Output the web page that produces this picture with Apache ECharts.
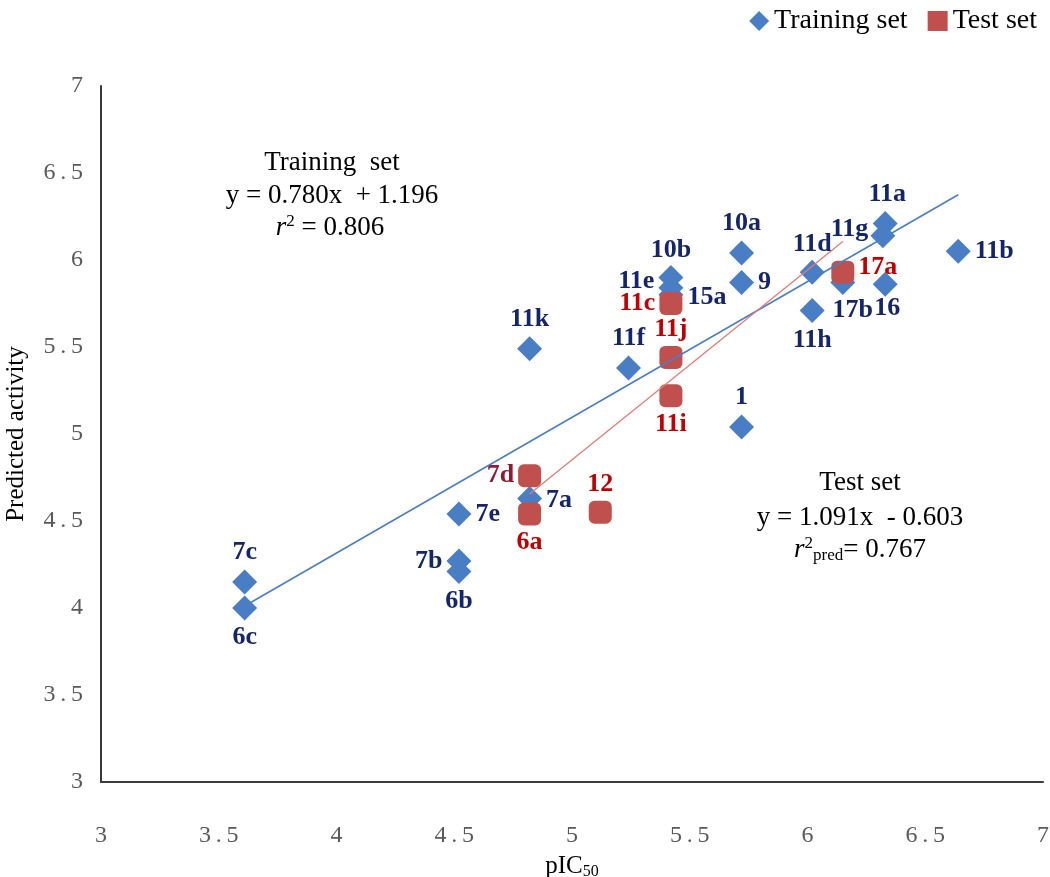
<!DOCTYPE html>
<html>
<head>
<meta charset="utf-8">
<script src="https://cdn.jsdelivr.net/npm/echarts@6/dist/echarts.min.js"></script>
<style>html,body{margin:0;padding:0;background:#fff}#c{width:1050px;height:877px}</style>
</head>
<body>
<div id="c"></div>
<script>
// ---- Data ----
const trainNames = ['6c','7c','7b','6b','7e','7a','11k','11f','10b','11e','15a','1','9','10a','11d','11h','17b','11g','11a','16','11b'];
const trainX     = [3.61,3.61,4.52,4.52,4.52,4.82,4.82,5.24,5.42,5.42,5.42,5.72,5.72,5.72,6.02,6.02,6.15,6.32,6.33,6.33,6.64];
const trainY     = [4.00,4.15,4.27,4.21,4.54,4.63,5.49,5.38,5.90,5.84,5.80,5.04,5.87,6.04,5.93,5.71,5.87,6.14,6.21,5.86,6.05];
const testNames  = ['7d','6a','12','11i','11j','11c','17a'];
const testX      = [4.82,4.82,5.12,5.42,5.42,5.42,6.15];
const testY      = [4.76,4.54,4.55,5.22,5.44,5.75,5.93];
const trainFit   = [0.780, 1.196];   // slope, intercept
const testFit    = [1.091, -0.603];
const axisTicks  = [3, 3.5, 4, 4.5, 5, 5.5, 6, 6.5, 7];

// ---- Label placement (style only) ----
const labelPlace = {
  '6c':['bottom',[0,0]], '7c':['top',[0,0]], '7b':['left',[0,0]], '6b':['bottom',[0,0]],
  '7e':['right',[0,0]], '7a':['right',[0,2]], '11k':['top',[0,0]], '11f':['top',[0,0]],
  '10b':['top',[0,2]], '11e':['left',[0,-7]], '15a':['right',[0,2]], '1':['top',[0,0]],
  '9':['right',[0,0]], '10a':['top',[0,0]], '11d':['top',[0,2]], '11h':['bottom',[0,0]],
  '17b':['bottom',[10,-2]], '11g':['left',[2,-6]], '11a':['top',[2,0]], '16':['bottom',[2,-6]],
  '11b':['right',[0,0]],
  '7d':['left',[0,0]], '6a':['bottom',[0,0]], '12':['top',[0,0]], '11i':['bottom',[0,0]],
  '11j':['top',[0,0]], '11c':['left',[0,0]], '17a':['right',[0,-5]]
};

const SERIF = '"Liberation Serif", "Times New Roman", "DejaVu Serif", serif';
const BLUE = '#4a7ec4', RED = '#c0504d';

function items(names, xs, ys, color) {
  return names.map((n, i) => {
    const p = labelPlace[n] || ['top',[0,0]];
    return {
      name: n, value: [xs[i], ys[i]],
      label: { position: p[0], offset: p[1], color: n === '7d' ? '#8e1b2f' : color }
    };
  });
}
function fitLine(fit, xs) {
  const lo = Math.min(...xs), hi = Math.max(...xs);
  return [[lo, fit[0]*lo + fit[1]], [hi, fit[0]*hi + fit[1]]];
}
function spaced(v) {
  return axisTicks.includes(v) ? String(v).split('').join('\u2009') : '';
}

const chart = echarts.init(document.getElementById('c'));
const axisCommon = {
  type: 'value', min: 3, max: 7, interval: 0.5,
  splitLine: { show: false },
  axisTick: { show: false },
  axisLine: { show: true, lineStyle: { color: '#3a3a3a', width: 2 } },
  axisLabel: { color: '#595959', fontFamily: SERIF, fontSize: 24, formatter: spaced }
};
const labelStyle = { show: true, formatter: '{b}', fontFamily: SERIF, fontWeight: 'bold', fontSize: 26, distance: 4 };
chart.setOption({
  animation: false,
  backgroundColor: '#fff',
  grid: { left: 101, right: 7, top: 86, bottom: 95, containLabel: false, outerBoundsMode: 'none' },
  legend: {
    right: 8, top: 2, itemGap: 20, itemWidth: 20, itemHeight: 20,
    textStyle: { fontFamily: SERIF, fontSize: 28, color: '#000' },
    data: [{ name: 'Training set', icon: 'diamond' }, { name: 'Test set', icon: 'rect' }]
  },
  xAxis: Object.assign({}, axisCommon, {
    axisLabel: Object.assign({}, axisCommon.axisLabel, { margin: 42 }),
    name: 'pIC{sub|50}', nameLocation: 'middle', nameGap: 70,
    nameTextStyle: { fontFamily: SERIF, fontSize: 25, color: '#000',
      rich: { sub: { fontFamily: SERIF, fontSize: 16, color: '#000', padding: [12, 0, 0, 0] } } }
  }),
  yAxis: Object.assign({}, axisCommon, {
    axisLabel: Object.assign({}, axisCommon.axisLabel, { margin: 18 }),
    name: 'Predicted activity', nameLocation: 'middle', nameGap: 72, nameRotate: 90,
    nameTextStyle: { fontFamily: SERIF, fontSize: 25, color: '#000' }
  }),
  series: [
    {
      name: 'Training set', type: 'scatter', symbol: 'diamond', symbolSize: 25,
      itemStyle: { color: BLUE, opacity: 1 }, z: 3,
      label: labelStyle,
      data: items(trainNames, trainX, trainY, '#14256a')
    },
    {
      name: 'Test set', type: 'scatter', symbol: 'roundRect', symbolSize: 23,
      itemStyle: { color: RED, opacity: 1 }, z: 3,
      label: labelStyle,
      data: items(testNames, testX, testY, '#c00000')
    },
    {
      name: 'trainFit', type: 'line', data: fitLine(trainFit, trainX), showSymbol: false, symbol: 'none',
      lineStyle: { color: BLUE, width: 1.6 }, z: 5, silent: true
    },
    {
      name: 'testFit', type: 'line', data: fitLine(testFit, testX), showSymbol: false, symbol: 'none',
      lineStyle: { color: '#e07b78', width: 1.3 }, z: 5, silent: true
    }
  ],
  graphic: [
    { type: 'text', x: 332, y: 163, style: { text: 'Training  set', font: '27px ' + SERIF, fill: '#000', align: 'center', verticalAlign: 'middle' } },
    { type: 'text', x: 332, y: 196, style: { text: 'y = 0.780x  + 1.196', font: '27px ' + SERIF, fill: '#000', align: 'center', verticalAlign: 'middle' } },
    { type: 'text', x: 330, y: 228, style: {
        text: '{i|r}{sup|2}{n| = 0.806}', fill: '#000', align: 'center', verticalAlign: 'middle',
        rich: {
          i: { fontFamily: SERIF, fontSize: 27, fontStyle: 'italic', fill: '#000' },
          sup: { fontFamily: SERIF, fontSize: 17, fill: '#000', padding: [0,0,12,0] },
          n: { fontFamily: SERIF, fontSize: 27, fill: '#000' }
        } } },
    { type: 'text', x: 860, y: 483, style: { text: 'Test set', font: '27px ' + SERIF, fill: '#000', align: 'center', verticalAlign: 'middle' } },
    { type: 'text', x: 860, y: 518, style: { text: 'y = 1.091x  - 0.603', font: '27px ' + SERIF, fill: '#000', align: 'center', verticalAlign: 'middle' } },
    { type: 'text', x: 860, y: 550, style: {
        text: '{i|r}{sup|2}{sub|pred}{n|= 0.767}', fill: '#000', align: 'center', verticalAlign: 'middle',
        rich: {
          i: { fontFamily: SERIF, fontSize: 27, fontStyle: 'italic', fill: '#000' },
          sup: { fontFamily: SERIF, fontSize: 17, fill: '#000', padding: [0,0,12,0] },
          sub: { fontFamily: SERIF, fontSize: 17, fill: '#000', padding: [12,0,0,0] },
          n: { fontFamily: SERIF, fontSize: 27, fill: '#000' }
        } } }
  ]
});
</script>
</body>
</html>
